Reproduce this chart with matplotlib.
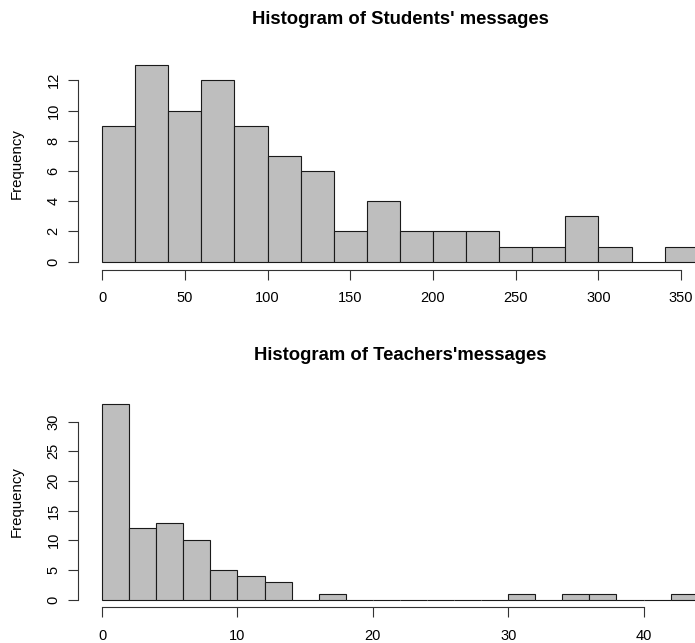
import numpy as np
import matplotlib
matplotlib.use("Agg")
import matplotlib.pyplot as plt

plt.rcParams['font.family'] = ['Liberation Sans', 'DejaVu Sans']

# message counts, binned the way R's hist() does it
student_edges = np.arange(0, 361, 20)
student_counts = [9, 13, 10, 12, 9, 7, 6, 2, 4, 2, 2, 2, 1, 1, 3, 1, 0, 1]
student_ticks = [0, 50, 100, 150, 200, 250, 300, 350]
student_yticks = [0, 2, 4, 6, 8, 10, 12]

teacher_edges = np.arange(0, 45, 2)
teacher_counts = [33, 12, 13, 10, 5, 4, 3, 0, 1, 0, 0, 0, 0, 0, 0, 1, 0, 1, 1, 0, 0, 1]
teacher_ticks = [0, 10, 20, 30, 40]
teacher_yticks = [0, 5, 10, 15, 20, 25, 30]

W, H = 695, 643
fig = plt.figure(figsize=(W / 100, H / 100), dpi=100)


def r_hist(ax, edges, counts, xticks, yticks):
    edges = np.asarray(edges)
    ax.bar(edges[:-1], counts, width=np.diff(edges), align='edge',
           color='#bebebe', edgecolor='#1a1a1a', linewidth=0.8)
    # R pads the data range by 4% on each side
    span_x = edges[-1] - edges[0]
    ax.set_xlim(edges[0] - 0.04 * span_x, edges[-1] + 0.04 * span_x)
    top = max(counts)
    ax.set_ylim(-0.04 * top, top * 1.04)
    ax.set_xticks(xticks)
    ax.set_yticks(yticks)
    for s in ('top', 'right'):
        ax.spines[s].set_visible(False)
    ax.spines['bottom'].set_bounds(xticks[0], xticks[-1])
    ax.spines['left'].set_bounds(yticks[0], yticks[-1])
    for s in ('bottom', 'left'):
        ax.spines[s].set_color('#333333')
        ax.spines[s].set_linewidth(0.8)
    ax.tick_params(axis='both', direction='out', length=7.2, width=0.8,
                   color='#333333', labelsize=10.5)
    ax.tick_params(axis='x', pad=8.3)
    ax.tick_params(axis='y', pad=5.6)
    for lab in ax.get_yticklabels():
        lab.set_rotation(90)
        lab.set_va('center')


def place(top_px, bottom_px):
    left_px, right_px = 78.3, 721.5
    return [left_px / W, 1 - bottom_px / H,
            (right_px - left_px) / W, (bottom_px - top_px) / H]


ax1 = fig.add_axes(place(57.3, 269.5))
r_hist(ax1, student_edges, student_counts, student_ticks, student_yticks)

ax2 = fig.add_axes(place(396.1, 607.4))
r_hist(ax2, teacher_edges, teacher_counts, teacher_ticks, teacher_yticks)

fig.text(400 / W, 1 - 20 / H, "Histogram of Students' messages",
         ha='center', va='center', fontsize=13.3, fontweight='bold')
fig.text(400 / W, 1 - 356 / H, "Histogram of Teachers'messages",
         ha='center', va='center', fontsize=13.3, fontweight='bold')
fig.text(16.7 / W, 1 - 163.5 / H, 'Frequency', rotation=90,
         ha='center', va='center', fontsize=10.8)
fig.text(16.7 / W, 1 - 502 / H, 'Frequency', rotation=90,
         ha='center', va='center', fontsize=10.8)

fig.savefig('out.png', dpi=100)
